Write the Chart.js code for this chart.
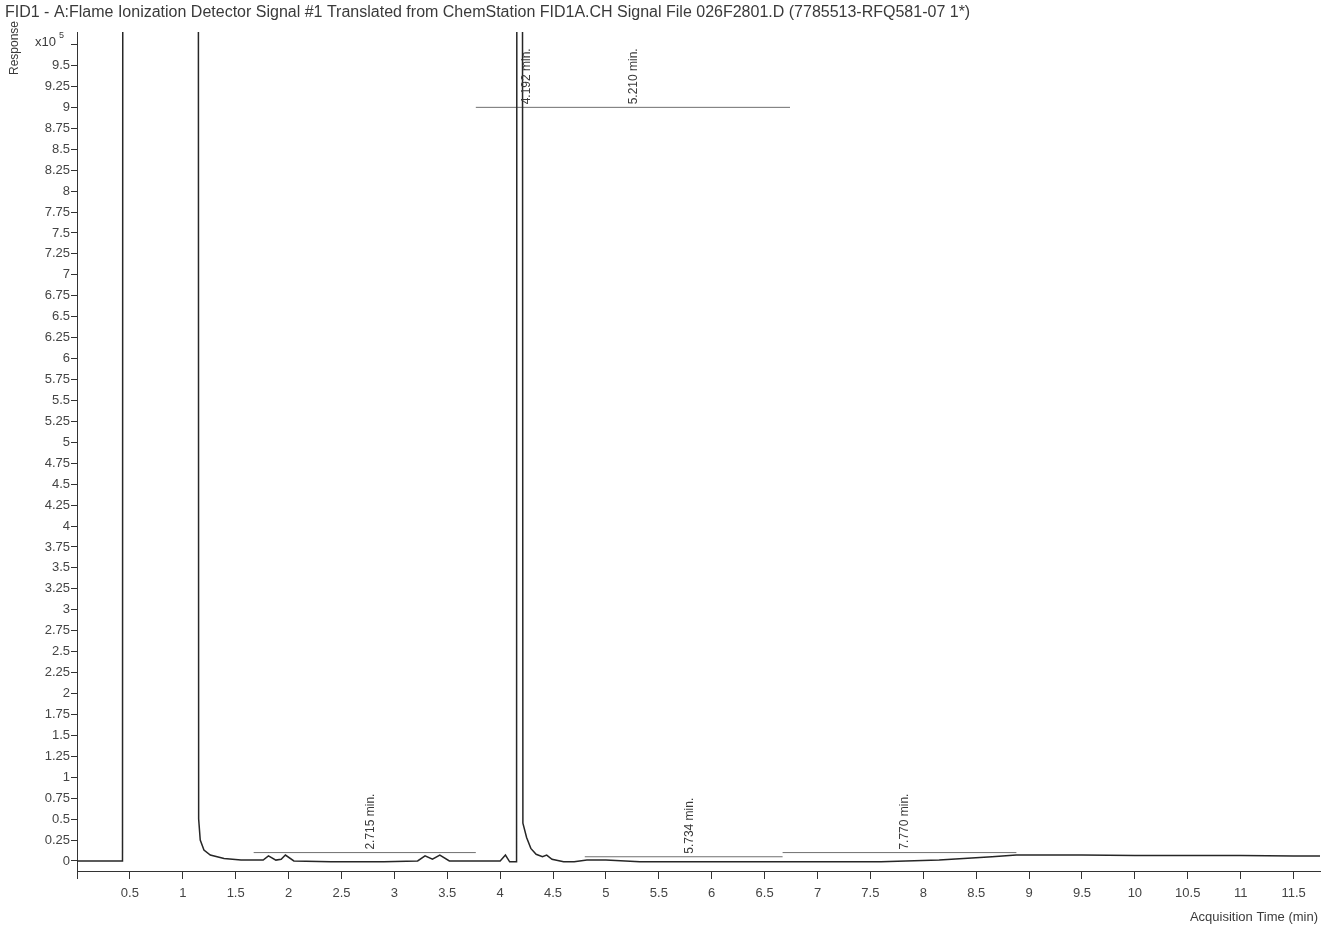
<!DOCTYPE html>
<html lang="en">
<head>
<meta charset="UTF-8" />
<title>FID1 chromatogram</title>
<script src="https://cdn.jsdelivr.net/npm/chart.js"></script>
<style>
  html, body { margin: 0; padding: 0; background: #fff; }
  #wrap { width: 1325px; height: 930px; }
</style>
</head>
<body>
<div id="wrap"><canvas id="fid"></canvas></div>
<script>
// signal trace (time in min, response in x10^5 counts; 40 = off scale)
const traceTime = [0, 0.43, 0.44, 1.14, 1.15, 1.165, 1.2, 1.26, 1.39, 1.55, 1.76, 1.81, 1.88, 1.93, 1.97,
  2.05, 2.4, 2.9, 3.22, 3.29, 3.36, 3.43, 3.52, 3.8, 4.0, 4.05, 4.09, 4.155, 4.165, 4.2, 4.215,
  4.25, 4.29, 4.34, 4.4, 4.44, 4.49, 4.6, 4.7, 4.82, 5.0, 5.32, 6.0, 7.0, 7.6, 8.15, 8.65, 8.88,
  9.5, 10.0, 10.5, 11.0, 11.5, 11.75];
const traceResp = [0, 0, 40, 40, 0.5, 0.25, 0.13, 0.07, 0.03, 0.01, 0.01, 0.06, 0.01, 0.02, 0.07,
  0, -0.01, -0.01, 0, 0.06, 0.02, 0.07, 0, 0, 0, 0.07, -0.01, -0.01, 40, 40, 0.45,
  0.28, 0.15, 0.08, 0.05, 0.07, 0.02, -0.01, -0.01, 0.01, 0.01, -0.01, -0.01, -0.01, -0.01, 0.01, 0.05, 0.07,
  0.07, 0.065, 0.065, 0.065, 0.06, 0.06];

// integration baselines
const baseFrom = [1.67, 3.77, 4.8, 6.67];
const baseTo = [3.77, 6.74, 6.67, 8.88];
const baseLevel = [0.1, 9.0, 0.05, 0.1];

// peak labels
const peakTime = [2.715, 4.192, 5.210, 5.734, 7.770];
const peakLevel = [0.1, 9.0, 9.0, 0.05, 0.1];

const xTicksMax = 11.75;
const yMin = -0.12, yMax = 9.9;

const titleText = 'FID1 - A:Flame Ionization Detector Signal #1 Translated from ChemStation FID1A.CH Signal File 026F2801.D (7785513-RFQ581-07 1*)';

const FONT = '"Liberation Sans", Arial, sans-serif';

const datasets = [{
  data: traceTime.map((t, i) => ({ x: t, y: traceResp[i] })),
  borderColor: '#262626',
  borderWidth: 1.5,
  pointRadius: 0,
  tension: 0
}];
baseFrom.forEach((f, i) => {
  datasets.push({
    data: [{ x: f, y: baseLevel[i] }, { x: baseTo[i], y: baseLevel[i] }],
    borderColor: '#6f6f6f',
    borderWidth: 1,
    pointRadius: 0
  });
});

const textPlugin = {
  id: 'fidText',
  afterDraw(chart) {
    const ctx = chart.ctx;
    const xs = chart.scales.x, ys = chart.scales.y;
    ctx.save();
    ctx.fillStyle = '#3a3a3a';

    // peak labels, vertical
    ctx.font = '12px ' + FONT;
    peakTime.forEach((t, i) => {
      const px = xs.getPixelForValue(t);
      const py = ys.getPixelForValue(peakLevel[i]) - 3;
      ctx.save();
      ctx.translate(px, py);
      ctx.rotate(-Math.PI / 2);
      ctx.textAlign = 'left';
      ctx.textBaseline = 'top';
      ctx.fillText(peakTime[i].toFixed(3) + ' min.', 0, 0);
      ctx.restore();
    });

    // title
    ctx.font = '16px ' + FONT;
    ctx.textAlign = 'left';
    ctx.textBaseline = 'middle';
    ctx.fillText(titleText, 5, 13);

    // y axis title
    ctx.font = '12px ' + FONT;
    ctx.save();
    ctx.translate(15, 48);
    ctx.rotate(-Math.PI / 2);
    ctx.textAlign = 'center';
    ctx.textBaseline = 'middle';
    ctx.fillText('Response', 0, 0);
    ctx.restore();

    // exponent
    ctx.font = '13px ' + FONT;
    ctx.textAlign = 'left';
    ctx.fillText('x10', 35, 42);
    ctx.font = '9px ' + FONT;
    ctx.fillText('5', 59, 36);

    // x axis title
    ctx.font = '13px ' + FONT;
    ctx.textAlign = 'right';
    ctx.fillText('Acquisition Time (min)', 1318, 917);
    ctx.restore();
  }
};

new Chart(document.getElementById('fid'), {
  type: 'line',
  data: { datasets: datasets },
  options: {
    responsive: true,
    maintainAspectRatio: false,
    animation: false,
    events: [],
    layout: { padding: { top: 32, right: 5, left: 0, bottom: 0 } },
    plugins: {
      legend: { display: false },
      title: { display: false },
      tooltip: { enabled: false }
    },
    scales: {
      x: {
        type: 'linear',
        min: 0,
        max: xTicksMax,
        afterFit(scale) { scale.height = 59; },
        border: { color: '#333', width: 1 },
        grid: { drawOnChartArea: false, tickLength: 8, color: '#333' },
        ticks: {
          stepSize: 0.5,
          includeBounds: false,
          autoSkip: false,
          maxRotation: 0,
          padding: 7,
          color: '#444',
          font: { size: 13, family: FONT },
          callback: v => (v === 0 ? '' : String(Math.round(v * 100) / 100))
        }
      },
      y: {
        min: yMin,
        max: yMax,
        afterFit(scale) { scale.width = 77; },
        border: { color: '#333', width: 1 },
        grid: { drawOnChartArea: false, tickLength: 6, color: '#333' },
        ticks: {
          stepSize: 0.25,
          includeBounds: false,
          autoSkip: false,
          padding: 1,
          color: '#444',
          font: { size: 13, family: FONT },
          callback: v => (Math.abs(v - 9.75) < 1e-6 ? '' : String(Math.round(v * 100) / 100))
        }
      }
    }
  },
  plugins: [textPlugin]
});
</script>
</body>
</html>
